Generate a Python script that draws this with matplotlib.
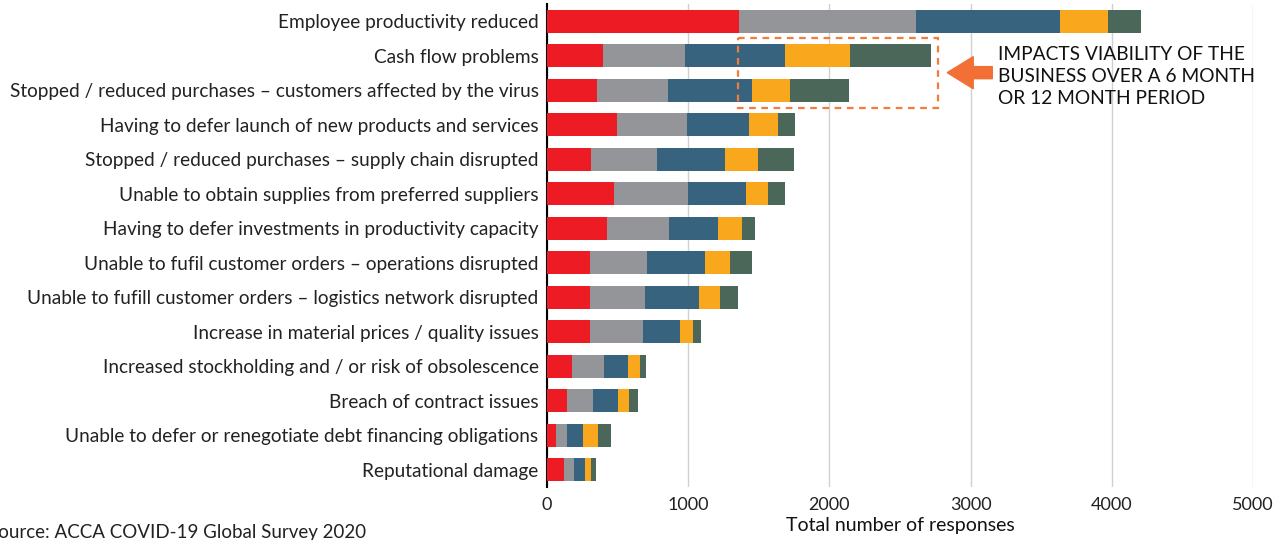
import matplotlib
matplotlib.use("Agg")
import matplotlib.pyplot as plt
from matplotlib.patches import Rectangle, FancyArrow
import numpy as np

plt.rcParams['font.family'] = ['Lato', 'DejaVu Sans']

categories = [
    "Employee productivity reduced",
    "Cash flow problems",
    "Stopped / reduced purchases \u2013 customers affected by the virus",
    "Having to defer launch of new products and services",
    "Stopped / reduced purchases \u2013 supply chain disrupted",
    "Unable to obtain supplies from preferred suppliers",
    "Having to defer investments in productivity capacity",
    "Unable to fufil customer orders \u2013 operations disrupted",
    "Unable to fufill customer orders \u2013 logistics network disrupted",
    "Increase in material prices / quality issues",
    "Increased stockholding and / or risk of obsolescence",
    "Breach of contract issues",
    "Unable to defer or renegotiate debt financing obligations",
    "Reputational damage",
]

# five response groups per impact
seg_red    = [1360, 395, 352, 494, 310, 473, 423, 302, 302, 302, 175, 140, 64, 120]
seg_grey   = [1255, 581, 504, 497, 468, 525, 440, 405, 391, 377, 227, 184, 78, 71]
seg_blue   = [1022, 709, 596, 440, 482, 411, 347, 411, 383, 262, 170, 177, 113, 78]
seg_orange = [333, 461, 269, 205, 234, 156, 170, 178, 149, 92, 85, 78, 106, 42]
seg_green  = [234, 575, 419, 121, 256, 121, 92, 156, 128, 57, 43, 64, 91, 35]

colors = ["#ED1C24", "#939598", "#38637F", "#F9A71C", "#4A6759"]
xticks = [0, 1000, 2000, 3000, 4000, 5000]

note = "IMPACTS VIABILITY OF THE\nBUSINESS OVER A 6 MONTH\nOR 12 MONTH PERIOD"
source = "Source: ACCA COVID-19 Global Survey 2020"

fig = plt.figure(figsize=(12.86, 5.4), dpi=100)
ax = fig.add_axes([0.4253, 0.098, 0.549, 0.8946])

y = np.arange(len(categories))
left = np.zeros(len(categories))
for seg, c in zip([seg_red, seg_grey, seg_blue, seg_orange, seg_green], colors):
    ax.barh(y, seg, left=left, height=0.67, color=c, zorder=3)
    left += np.array(seg)

ax.set_ylim(len(categories) - 0.5, -0.5)
ax.set_xlim(0, 5000)
ax.set_yticks(y)
ax.set_yticklabels(categories, fontsize=13.7, color="#222222")
ax.set_xticks(xticks)
ax.set_xticklabels([str(t) for t in xticks], fontsize=13, color="#222222")
ax.tick_params(axis='x', length=0, pad=7)
ax.tick_params(axis='y', length=0, pad=6)
ax.grid(axis='x', color="#d0d0d0", linewidth=1, zorder=0)
for s in ['top', 'right', 'bottom']:
    ax.spines[s].set_visible(False)
ax.spines['left'].set_color('black')
ax.spines['left'].set_linewidth(1.5)
ax.set_xlabel("Total number of responses", fontsize=14, color="#111111", labelpad=3)

# dashed box around the two viability rows
ax.add_patch(Rectangle((1352, 0.48), 2771 - 1352, 2.51 - 0.48, fill=False,
                       edgecolor="#F47B3A", linestyle=(0, (3, 2.5)), linewidth=1.6,
                       zorder=4, clip_on=False))
ax.add_patch(FancyArrow(3154, 1.49, -(3154 - 2835), 0, width=0.35, head_width=0.93,
                        head_length=184, length_includes_head=True,
                        color="#F26F35", zorder=4, clip_on=False))
ax.text(3195, 0.72, note, fontsize=13.8, va='top', ha='left', color="#111111",
        linespacing=1.35, zorder=5)

fig.text(-0.009, 0.013, source, fontsize=13.5, color="#222222", ha='left', va='center')

fig.savefig("out.png", dpi=100)
